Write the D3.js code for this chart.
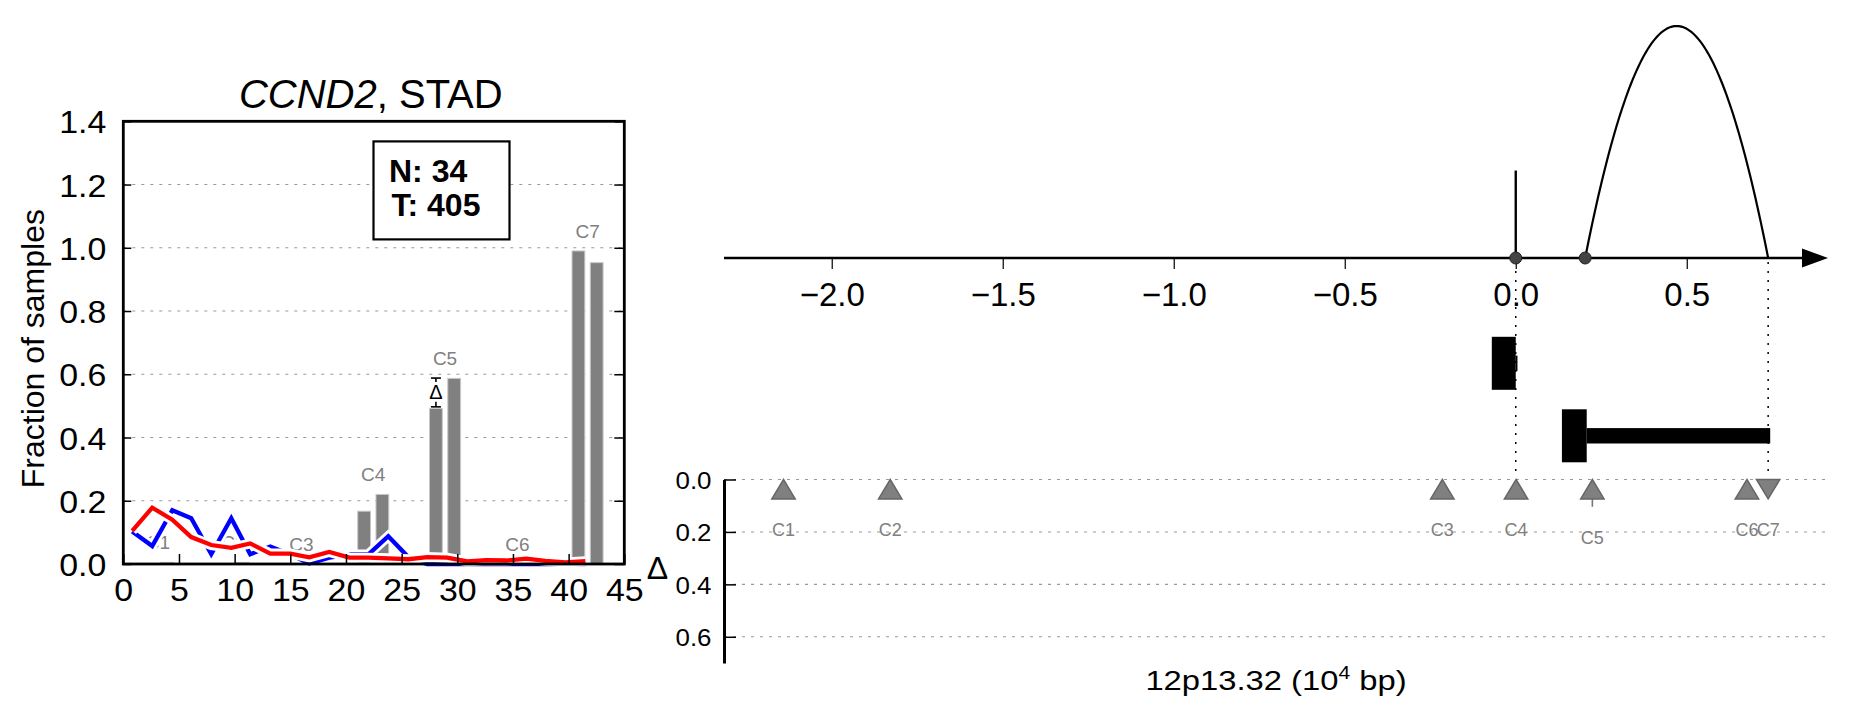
<!DOCTYPE html>
<html><head><meta charset="utf-8">
<script src="https://cdn.jsdelivr.net/npm/d3@7"></script>
<style>
body{margin:0;background:#fff}
text{font-family:"Liberation Sans",Arial,Helvetica,sans-serif}
</style>
</head><body>
<svg id="c" width="1851" height="718"></svg>
<script>
// ---------------- data ----------------
// left panel: fraction of samples along the binned coordinate
const lineX      = [0.8, 2.6, 4.4, 6.1, 7.9, 9.7, 11.4, 13.2, 15.0, 16.7, 18.5, 20.3, 22.0, 23.8, 25.6, 27.3, 29.1, 30.9, 32.6, 34.4, 36.2, 37.9, 39.7, 41.5];
const normalFrac = [0.103, 0.057, 0.170, 0.145, 0.031, 0.145, 0.031, 0.055, 0.030, 0.002, 0.020, 0.030, 0.030, 0.088, 0.022, 0.0, 0.0, 0.0, 0.0, 0.0, 0.0, 0.0, 0.0, 0.0];
const tumorFrac  = [0.105, 0.178, 0.140, 0.085, 0.060, 0.051, 0.065, 0.033, 0.033, 0.021, 0.038, 0.020, 0.020, 0.018, 0.015, 0.022, 0.020, 0.008, 0.012, 0.011, 0.017, 0.010, 0.005, 0.009];
const clusters   = ["C1", "C2", "C3", "C4", "C5", "C6", "C7"];
const clusterX   = [3.1, 9.9, 16.0, 22.45, 28.9, 35.4, 41.7];
const barNormal  = [0.0, 0.0, 0.0, 0.167, 0.492, 0.0, 0.99];
const barTumor   = [0.005, 0.005, 0.0, 0.22, 0.587, 0.0, 0.953];
const deltaLow   = [null, null, null, null, 0.497, null, null];
const deltaHigh  = [null, null, null, null, 0.588, null, null];
const legendLines = ["N: 34", "T: 405"];
const leftXTicks = [0, 5, 10, 15, 20, 25, 30, 35, 40, 45];
const leftYTicks = [0.0, 0.2, 0.4, 0.6, 0.8, 1.0, 1.2, 1.4];

// right panel: genomic coordinate (10^4 bp)
const topTicks   = [-2.0, -1.5, -1.0, -0.5, 0.0, 0.5];
const stickPos   = [0.0];
const stickH     = [0.377];
const arcStart   = [0.203];
const arcEnd     = [0.738];
const arcH       = [1.0];
const dotPos     = [0.0, 0.203];
const guidePos   = [0.0, 0.738];
const geneRow    = [0, 1];
const geneThickStart = [-0.070, 0.135];
const geneThickEnd   = [0.000, 0.2075];
const geneThinEnd    = [0.005, 0.744];

// Δ panel
const deltaPos   = [-2.141, -1.829, -0.2147, 0.001, 0.224, 0.676, 0.738];
const deltaDir   = ["up", "up", "up", "up", "up", "up", "down"];
const deltaMark  = [0.037, 0.037, 0.037, 0.037, 0.037, 0.037, 0.037];
const deltaErr   = [0.037, 0.037, 0.037, 0.037, 0.104, 0.037, 0.037];
const deltaTicks = [0.0, 0.2, 0.4, 0.6];

// ---------------- drawing ----------------
const svg = d3.select("#c");
const FONT = '"Liberation Sans",Arial,Helvetica,sans-serif';
const SX = 1.17;   // horizontal stretch of the x label
const SXT = 1.06;  // horizontal stretch of left tick labels

// ===== LEFT PANEL =====
const L = {x0: 123.3, x1: 624.3, y0: 121.3, y1: 564};
const lx = d3.scaleLinear().domain([0, 45]).range([L.x0, L.x1]);
const ly = d3.scaleLinear().domain([0, 1.4]).range([L.y1, L.y0]);
const left = svg.append("g");

// gridlines
left.selectAll("line.grid").data(leftYTicks.filter(v => v > 0 && v < 1.4)).enter()
  .append("line").attr("x1", L.x0).attr("x2", L.x1)
  .attr("y1", d => ly(d)).attr("y2", d => ly(d))
  .attr("stroke", "#999").attr("stroke-width", 1.1).attr("stroke-dasharray", "3,6");

// bars
const barOff = 0.82, barW = 1.15;
clusters.forEach((c, i) => {
  [[barNormal[i], -barOff], [barTumor[i], barOff]].forEach(([v, off]) => {
    if (v <= 0) return;
    left.append("rect")
      .attr("x", lx(clusterX[i] + off - barW / 2))
      .attr("width", lx(barW) - lx(0))
      .attr("y", ly(v)).attr("height", ly(0) - ly(v))
      .attr("fill", "#808080").attr("stroke", "#c8c8c8").attr("stroke-width", 1);
  });
});

// cluster labels
clusters.forEach((c, i) => {
  const top = Math.max(barNormal[i], barTumor[i], deltaHigh[i] || 0);
  left.append("text").attr("x", lx(clusterX[i])).attr("y", ly(top) - 13)
    .attr("text-anchor", "middle").attr("font-size", 19).attr("fill", "#808080").text(c);
});

// lines with white halo
const lineGen = d3.line().x((d, i) => lx(lineX[i])).y(d => ly(d));
[[normalFrac, "#0000ff"], [tumorFrac, "#ff0000"]].forEach(([vals, col]) => {
  left.append("path").attr("d", lineGen(vals)).attr("fill", "none")
    .attr("stroke", "#fff").attr("stroke-width", 10).attr("stroke-linejoin", "miter");
  left.append("path").attr("d", lineGen(vals)).attr("fill", "none")
    .attr("stroke", col).attr("stroke-width", 4.3).attr("stroke-linejoin", "miter");
});

// Δ error bar
clusters.forEach((c, i) => {
  if (deltaLow[i] == null) return;
  const x = lx(clusterX[i] - barOff);
  const yt = ly(deltaHigh[i]), yb = ly(deltaLow[i]);
  const g = left.append("g").attr("stroke", "#000").attr("stroke-width", 1.6);
  g.append("line").attr("x1", x - 5).attr("x2", x + 5).attr("y1", yt).attr("y2", yt);
  g.append("line").attr("x1", x - 5).attr("x2", x + 5).attr("y1", yb).attr("y2", yb);
  g.append("line").attr("x1", x).attr("x2", x).attr("y1", yt).attr("y2", yt + 4);
  g.append("line").attr("x1", x).attr("x2", x).attr("y1", yb - 5).attr("y2", yb);
  left.append("text").attr("x", x).attr("y", (yt + yb) / 2 + 7)
    .attr("text-anchor", "middle").attr("font-size", 20).attr("fill", "#000").text("Δ");
});

// axes (inward ticks)
const ax = left.append("g").attr("transform", `translate(0,${L.y1})`)
  .call(d3.axisBottom(lx).tickValues(leftXTicks).tickFormat(d3.format("d"))
    .tickSizeInner(-10).tickSizeOuter(0).tickPadding(0));
ax.select(".domain").remove();
ax.selectAll(".tick line").attr("stroke", "#000").attr("stroke-width", 1.5);
ax.selectAll(".tick text").attr("x", 0).attr("y", 37).attr("dy", 0).attr("font-size", 32)
  .attr("transform", `scale(${SXT},1)`)
  .attr("font-family", FONT).attr("fill", "#000");

const ayl = left.append("g").attr("transform", `translate(${L.x0},0)`)
  .call(d3.axisLeft(ly).tickValues(leftYTicks).tickFormat(d3.format(".1f"))
    .tickSizeInner(-8).tickSizeOuter(0).tickPadding(0));
ayl.select(".domain").remove();
ayl.selectAll(".tick line").attr("stroke", "#000").attr("stroke-width", 1.5);
ayl.selectAll(".tick text").attr("x", -17 / SXT).attr("dy", "0.36em").attr("font-size", 32)
  .attr("transform", `scale(${SXT},1)`)
  .attr("font-family", FONT).attr("fill", "#000");

const ayr = left.append("g").attr("transform", `translate(${L.x1},0)`)
  .call(d3.axisRight(ly).tickValues(leftYTicks).tickFormat("")
    .tickSizeInner(-10).tickSizeOuter(0));
ayr.select(".domain").remove();
ayr.selectAll(".tick line").attr("stroke", "#000").attr("stroke-width", 1.5);

// frame
left.append("rect").attr("x", L.x0).attr("y", L.y0)
  .attr("width", L.x1 - L.x0).attr("height", L.y1 - L.y0)
  .attr("fill", "none").attr("stroke", "#000").attr("stroke-width", 2.8);

// title
const title = left.append("text").attr("x", (L.x0 + L.x1) / 2 - 3).attr("y", 108)
  .attr("text-anchor", "middle").attr("font-size", 40).attr("fill", "#000");
title.append("tspan").attr("font-style", "italic").text("CCND2");
title.append("tspan").text(", STAD");

// y label
left.append("text").attr("transform", `translate(44,${(L.y0 + L.y1) / 2 + 6}) rotate(-90)`)
  .attr("text-anchor", "middle").attr("font-size", 32).attr("fill", "#000").text("Fraction of samples");

// legend box
left.append("rect").attr("x", 373.5).attr("y", 141.4).attr("width", 136).attr("height", 98)
  .attr("fill", "#fff").attr("stroke", "#000").attr("stroke-width", 2.2);
legendLines.forEach((t, i) => {
  left.append("text").attr("x", 389 + i * 2.5).attr("y", 182 + i * 34)
    .attr("font-size", 32).attr("font-weight", "bold").attr("fill", "#000").text(t);
});

// ===== RIGHT PANEL =====
const R = {x0: 724, x1: 1828, axisY: 258};
const rx = d3.scaleLinear().domain([-2.315, 0.913]).range([R.x0, R.x1]);
const ry = d3.scaleLinear().domain([0, 1]).range([R.axisY, 26]);
const right = svg.append("g");

// dotted guides
guidePos.forEach(p => {
  right.append("line").attr("x1", rx(p)).attr("x2", rx(p)).attr("y1", R.axisY + 4).attr("y2", 476)
    .attr("stroke", "#000").attr("stroke-width", 1.5).attr("stroke-dasharray", "2,7");
});

// axis line + arrow
right.append("line").attr("x1", R.x0).attr("x2", R.x1 - 20).attr("y1", R.axisY).attr("y2", R.axisY)
  .attr("stroke", "#000").attr("stroke-width", 2.5);
right.append("path")
  .attr("d", `M${R.x1 - 26},${R.axisY - 9.5}L${R.x1},${R.axisY}L${R.x1 - 26},${R.axisY + 9.5}Z`)
  .attr("fill", "#000");

const at = right.append("g").attr("transform", `translate(0,${R.axisY})`)
  .call(d3.axisBottom(rx).tickValues(topTicks).tickFormat(d3.format(".1f"))
    .tickSizeInner(11).tickSizeOuter(0).tickPadding(0));
at.select(".domain").remove();
at.selectAll(".tick line").attr("stroke", "#000").attr("stroke-width", 1.2);
at.selectAll(".tick text").attr("y", 48).attr("dy", 0).attr("font-size", 33)
  .attr("font-family", FONT).attr("fill", "#000");

// stick
stickPos.forEach((p, i) => {
  right.append("line").attr("x1", rx(p)).attr("x2", rx(p)).attr("y1", R.axisY).attr("y2", ry(stickH[i]))
    .attr("stroke", "#000").attr("stroke-width", 2.4);
});
// arc (parabola)
arcStart.forEach((s, i) => {
  const e = arcEnd[i], c = (s + e) / 2, w = (e - s) / 2;
  const pts = d3.range(0, 1.0001, 0.01).map(t => {
    const v = s + t * (e - s); const u = (v - c) / w;
    return [rx(v), ry(arcH[i] * (1 - u * u))];
  });
  right.append("path").attr("d", d3.line()(pts)).attr("fill", "none")
    .attr("stroke", "#000").attr("stroke-width", 2.2);
});
// dots
dotPos.forEach(p => {
  right.append("circle").attr("cx", rx(p)).attr("cy", R.axisY).attr("r", 6)
    .attr("fill", "#444").attr("stroke", "#222").attr("stroke-width", 1);
});

// genes
const gy = d3.scalePoint().domain([0, 1]).range([363.3, 435.8]);
geneRow.forEach((r, i) => {
  right.append("rect").attr("x", rx(geneThickEnd[i])).attr("width", rx(geneThinEnd[i]) - rx(geneThickEnd[i]))
    .attr("y", gy(r) - 7.7).attr("height", 15.4).attr("fill", "#000");
  right.append("rect").attr("x", rx(geneThickStart[i])).attr("width", rx(geneThickEnd[i]) - rx(geneThickStart[i]))
    .attr("y", gy(r) - 26.5).attr("height", 53).attr("fill", "#000");
});

// ===== Δ PANEL =====
const dy = d3.scaleLinear().domain([0, 0.7]).range([479.5, 663]);
const dp = svg.append("g");
deltaTicks.forEach(t => {
  dp.append("line").attr("x1", R.x0).attr("x2", R.x1).attr("y1", dy(t)).attr("y2", dy(t))
    .attr("stroke", "#999").attr("stroke-width", 1.1).attr("stroke-dasharray", "3,6");
});
const ad = dp.append("g").attr("transform", `translate(${R.x0},0)`)
  .call(d3.axisLeft(dy).tickValues(deltaTicks).tickFormat(d3.format(".1f"))
    .tickSizeInner(-12).tickSizeOuter(0).tickPadding(0));
ad.select(".domain").attr("stroke", "#000").attr("stroke-width", 3);
ad.selectAll(".tick line").attr("stroke", "#000").attr("stroke-width", 1.5);
ad.selectAll(".tick text").attr("x", -12.5 / 1.08).attr("dy", "0.36em").attr("font-size", 24)
  .attr("transform", "scale(1.08,1)")
  .attr("font-family", FONT).attr("fill", "#000");

dp.append("text").attr("x", 657.5).attr("y", 579).attr("text-anchor", "middle")
  .attr("font-size", 32).attr("fill", "#000").text("Δ");

const TW = 11.7, TH = 9.7;
deltaPos.forEach((p, i) => {
  const x = rx(p), y = dy(deltaMark[i]);
  if (deltaErr[i] > deltaMark[i]) {
    dp.append("line").attr("x1", x).attr("x2", x).attr("y1", y).attr("y2", dy(deltaErr[i]))
      .attr("stroke", "#777").attr("stroke-width", 1.6);
  }
  const d = deltaDir[i] === "up"
    ? `M${x},${y - TH}L${x + TW},${y + TH}L${x - TW},${y + TH}Z`
    : `M${x - TW},${y - TH}L${x + TW},${y - TH}L${x},${y + TH}Z`;
  dp.append("path").attr("d", d).attr("fill", "#808080").attr("stroke", "#666").attr("stroke-width", 1.5);
  const bottom = Math.max(y + TH, dy(deltaErr[i]));
  dp.append("text").attr("x", x).attr("y", bottom + 37).attr("text-anchor", "middle")
    .attr("font-size", 18).attr("fill", "#808080").text(clusters[i]);
});

// x label
const xl = dp.append("text").attr("transform", `translate(1276,690) scale(${SX},1)`)
  .attr("text-anchor", "middle").attr("font-size", 28).attr("fill", "#000");
xl.append("tspan").text("12p13.32 (10");
xl.append("tspan").attr("font-size", 18).attr("dy", -11).text("4");
xl.append("tspan").attr("dy", 11).text(" bp)");
</script>
</body></html>
